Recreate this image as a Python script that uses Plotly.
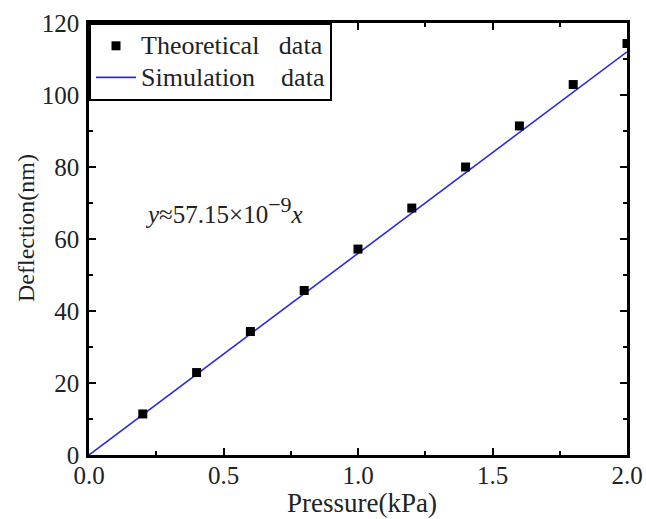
import plotly.graph_objects as go

pressure = [0.2, 0.4, 0.6, 0.8, 1.0, 1.2, 1.4, 1.6, 1.8, 2.0]
theoretical = [11.4, 22.9, 34.3, 45.7, 57.2, 68.6, 80.0, 91.4, 102.9, 114.3]
sim_x = [0.0, 0.4, 0.8, 1.2, 1.6, 2.0]
sim_y = [0.0, 22.4, 44.8, 67.2, 89.6, 112.0]

FONT = "Liberation Serif"
FS = 25
COL = "#222"

def big(s):
    return "<span style='font-size:26px'>" + s + "</span>"

fig = go.Figure()
fig.add_trace(go.Scatter(x=sim_x, y=sim_y, mode="lines",
                         name=big("Simulation&nbsp;&nbsp;&nbsp;&nbsp;data"),
                         line=dict(color="#2b2bd9", width=1.6)))
fig.add_trace(go.Scatter(x=pressure, y=theoretical, mode="markers",
                         name=big("Theoretical&nbsp;&nbsp;&nbsp;data"),
                         marker=dict(symbol="square", size=9, color="black")))

axis_common = dict(showline=True, linewidth=2.5, linecolor="black", mirror="ticks",
                   ticks="inside", ticklen=7, tickwidth=2, tickcolor="black",
                   showgrid=False, zeroline=False, automargin=False,
                   tickfont=dict(family=FONT, size=FS, color=COL))

fig.update_xaxes(range=[0, 2.0], dtick=0.5, tickformat=".1f", ticklabelstandoff=-4,
                 minor=dict(ticks="inside", ticklen=4, tickwidth=2, tickcolor="black", dtick=0.25),
                 **axis_common)
fig.update_yaxes(range=[0, 120], dtick=20, ticklabelstandoff=2,
                 minor=dict(ticks="inside", ticklen=4, tickwidth=2, tickcolor="black", dtick=10),
                 **axis_common)

# axis titles
fig.add_annotation(x=0.5, y=0, xref="paper", yref="paper", xshift=4, yshift=-48,
                   xanchor="center", yanchor="middle", showarrow=False,
                   text="Pressure(kPa)", font=dict(family=FONT, size=27, color=COL))
fig.add_annotation(x=0, y=0.5, xref="paper", yref="paper", xshift=-63, yshift=11,
                   xanchor="center", yanchor="middle", showarrow=False, textangle=-90,
                   text="Deflection(nm)", font=dict(family=FONT, size=24, color=COL))

fig.add_annotation(x=0.2, y=68, xref="x", yref="y", showarrow=False, xanchor="left",
                   text="<i>y</i>≈57.15×10<sup><span style='font-size:22px'>−9</span></sup><i>x</i>",
                   font=dict(family=FONT, size=25, color=COL))

fig.update_layout(
    width=646, height=519,
    margin=dict(l=89, r=19, t=23, b=64),
    plot_bgcolor="white", paper_bgcolor="white",
    legend=dict(x=0.0, y=1.0, xanchor="left", yanchor="top",
                bgcolor="white", bordercolor="black", borderwidth=2,
                font=dict(family=FONT, size=22, color=COL),
                traceorder="reversed", tracegroupgap=0, itemwidth=40),
    showlegend=True,
)

fig.write_html("out.html", config={"displayModeBar": False},
               post_script="document.body.style.margin='0';document.body.style.overflow='hidden';")
